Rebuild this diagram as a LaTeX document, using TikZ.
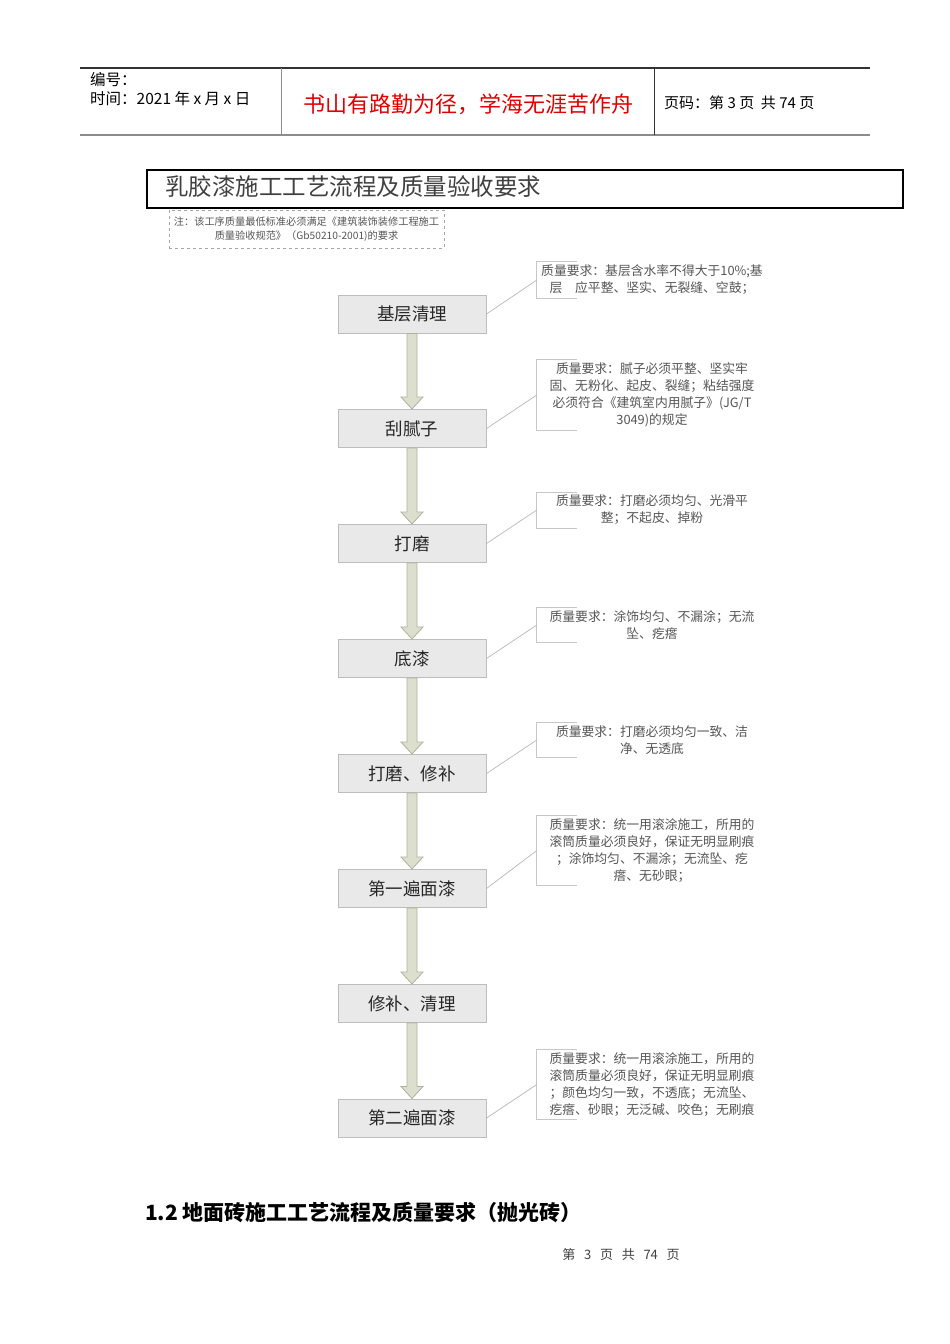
\documentclass[tikz,border=0pt]{standalone}
\usepackage{fontspec}
\newfontfamily\cjk{Noto Sans CJK SC}
\usetikzlibrary{calc}
\definecolor{boxfill}{HTML}{E9E9E9}
\definecolor{boxline}{HTML}{BDBDBD}
\definecolor{arrowfill}{HTML}{DCDFCE}
\definecolor{arrowline}{HTML}{AEB39C}
\definecolor{notegray}{HTML}{555555}
\definecolor{mottored}{HTML}{E00000}
\tikzset{
  stepbox/.style={draw=boxline, fill=boxfill, line width=1pt, minimum width=148pt, minimum height=38pt,
    inner sep=0pt, font={\cjk\fontsize{17.5}{20}\selectfont}, text=black!85},
  reqnote/.style={align=center, text width=222pt, inner xsep=4pt, inner ysep=3pt,
    font={\cjk\fontsize{12.8}{17}\selectfont}, text=notegray},
  bracketline/.style={draw=black!22, line width=0.8pt},
  leader/.style={draw=black!28, line width=0.7pt},
  flowpoly/.style={draw=arrowline, fill=arrowfill, line width=0.8pt},
}
\newcommand{\flowarrow}[2]{%
  \draw[flowpoly] ($(#1.south)+(-5,0)$) -- ($(#2.north)+(-5,-12)$) -- ($(#2.north)+(-11,-12)$)
    -- (#2.north) -- ($(#2.north)+(11,-12)$) -- ($(#2.north)+(5,-12)$) -- ($(#1.south)+(5,0)$) -- cycle;}
\newcommand{\reqlink}[2]{%
  \draw[bracketline] ($(#2.north west)+(40,0)$) -- (#2.north west) -- (#2.south west) -- ($(#2.south west)+(40,0)$);
  \draw[leader] (#1.east) -- (#2.west);}

\begin{document}
\begin{tikzpicture}[x=1pt, y=-1pt]
    \useasboundingbox[fill=white] (0,0) rectangle (950,1344);
    % page header
    \draw[black!80, line width=1.2pt] (80,68) -- (870,68);
    \draw[black!45, line width=1.8pt] (80,135) -- (870,135);
    \draw[black!45, line width=1pt] (281,68) -- (281,135);
    \draw[black!80, line width=1pt] (654,68) -- (654,135);
    \node[anchor=west, align=left, inner sep=0pt, font={\cjk\fontsize{15.5}{19}\selectfont}] (hdrL) at (90,89)
      {编号：\\时间：2021 年 x 月 x 日};
    \node[inner sep=0pt, text=mottored, font={\cjk\fontsize{22}{26}\selectfont}] (motto) at (468,104)
      {书山有路勤为径，学海无涯苦作舟};
    \node[anchor=west, inner sep=0pt, font={\cjk\fontsize{15}{18}\selectfont}] (hdrR) at (664,103)
      {页码：第 3 页\ \ 共 74 页};
    % title and remark
    \node[draw=black, line width=1.5pt, minimum width=756pt, minimum height=38pt, inner sep=0pt] (frame) at (525,189) {};
    \node[anchor=west, inner sep=0pt, text=black!75, font={\cjk\fontsize{23.5}{26}\selectfont}] (title) at (165,187)
      {乳胶漆施工工艺流程及质量验收要求};
    \node[draw=black!35, dashed, line width=0.6pt, minimum width=275pt, minimum height=38pt, align=center,
      text=notegray, font={\cjk\fontsize{10.2}{14}\selectfont}] (remark) at (306.5,229)
      {注：该工序质量最低标准必须满足《建筑装饰装修工程施工\\质量验收规范》（Gb50210-2001)的要求};
    % process steps
    \node[stepbox] (base) at (412,314) {基层清理};
    \node[stepbox] (putty) at (412,428.5) {刮腻子};
    \node[stepbox] (sand) at (412,543.5) {打磨};
    \node[stepbox] (primer) at (412,658.5) {底漆};
    \node[stepbox] (repair) at (412,773.5) {打磨、修补};
    \node[stepbox] (coatA) at (412,888.5) {第一遍面漆};
    \node[stepbox] (clean) at (412,1003.5) {修补、清理};
    \node[stepbox] (coatB) at (412,1118) {第二遍面漆};
    \flowarrow{base}{putty}
    \flowarrow{putty}{sand}
    \flowarrow{sand}{primer}
    \flowarrow{primer}{repair}
    \flowarrow{repair}{coatA}
    \flowarrow{coatA}{clean}
    \flowarrow{clean}{coatB}
    % quality requirements
    \node[reqnote] (reqBase) at (652,280) {质量要求：基层含水率不得大于10\%;基\\层\quad 应平整、坚实、无裂缝、空鼓；};
    \node[reqnote] (reqPutty) at (652,395) {质量要求：腻子必须平整、坚实牢\\固、无粉化、起皮、裂缝；粘结强度\\必须符合《建筑室内用腻子》(JG/T\\3049)的规定};
    \node[reqnote] (reqSand) at (652,510) {质量要求：打磨必须均匀、光滑平\\整；不起皮、掉粉};
    \node[reqnote] (reqPrimer) at (652,625) {质量要求：涂饰均匀、不漏涂；无流\\坠、疙瘩};
    \node[reqnote] (reqRepair) at (652,740) {质量要求：打磨必须均匀一致、洁\\净、无透底};
    \node[reqnote] (reqCoatA) at (652,850.5) {质量要求：统一用滚涂施工，所用的\\滚筒质量必须良好，保证无明显刷痕\\；涂饰均匀、不漏涂；无流坠、疙\\瘩、无砂眼；};
    \node[reqnote] (reqCoatB) at (652,1084.5) {质量要求：统一用滚涂施工，所用的\\滚筒质量必须良好，保证无明显刷痕\\；颜色均匀一致，不透底；无流坠、\\疙瘩、砂眼；无泛碱、咬色；无刷痕};
    \reqlink{base}{reqBase}
    \reqlink{putty}{reqPutty}
    \reqlink{sand}{reqSand}
    \reqlink{primer}{reqPrimer}
    \reqlink{repair}{reqRepair}
    \reqlink{coatA}{reqCoatA}
    \reqlink{coatB}{reqCoatB}
    % next section and footer
    \node[anchor=west, inner sep=0pt, font={\cjk\bfseries\fontsize{21}{24}\selectfont}] (nextsec) at (145,1213)
      {1.2 地面砖施工工艺流程及质量要求（抛光砖）};
    \node[inner sep=0pt, text=black!75, font={\cjk\fontsize{13}{15}\selectfont}] (footer) at (621,1255)
      {第\ \ \ 3\ \ \ 页\ \ \ 共\ \ \ 74\ \ \ 页};
\end{tikzpicture}
\end{document}
